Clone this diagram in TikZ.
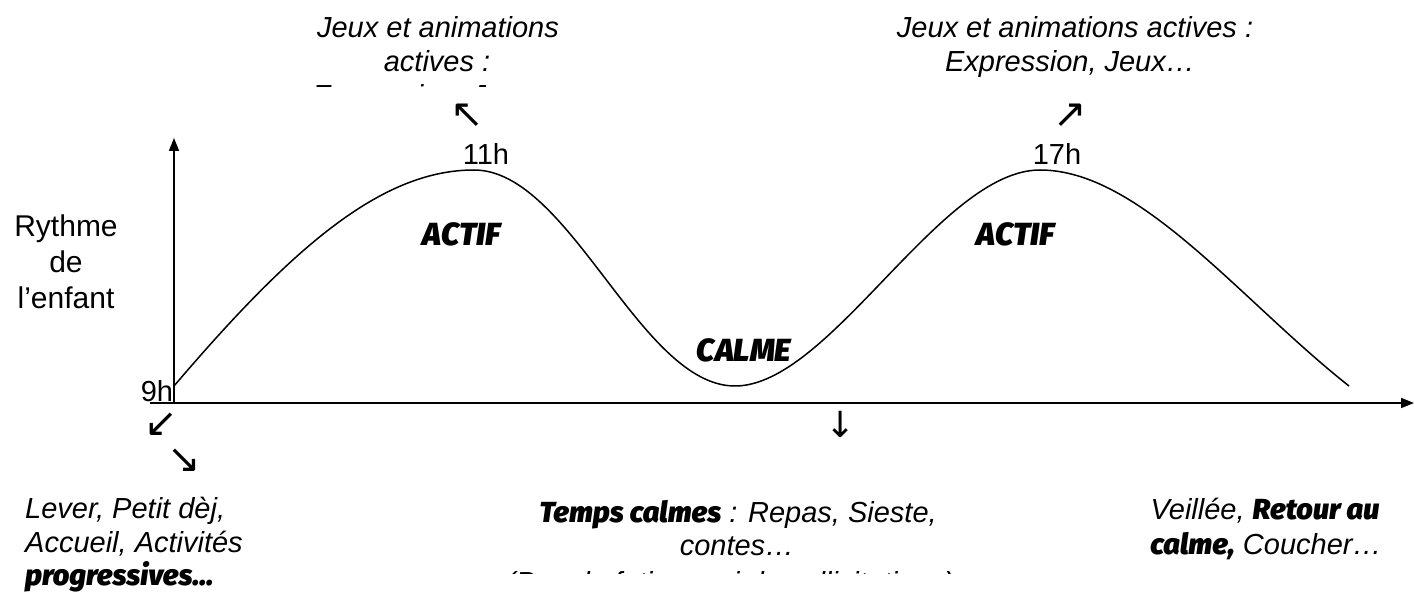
\documentclass[tikz,border=0pt]{standalone}
\usepackage{fontspec}
\setmainfont{Liberation Sans}
\newfontfamily\heavy{Fira Sans}[UprightFont={* Black}, ItalicFont={* Black Italic}]
\newfontfamily\sym{DejaVu Sans}
\usetikzlibrary{arrows.meta}
\tikzset{
  txt/.style={inner sep=0pt, anchor=base, font=\fontsize{29}{34}\selectfont\itshape},
  lbl/.style={inner sep=0pt, anchor=base, font=\fontsize{30}{34}\selectfont},
  big/.style={inner sep=0pt, anchor=base, font=\fontsize{29}{34}\selectfont\heavy\itshape},
  phase/.style={inner sep=0pt, anchor=base, font=\fontsize{32}{34}\selectfont\heavy\itshape},
  arr/.style={inner sep=0pt, anchor=center, font=\fontsize{40}{40}\selectfont\sym},
  axis/.style={line width=1.7pt, -{Triangle[length=13pt,width=10pt]}},
  wave/.style={line width=1.5pt}
}
\begin{document}
\begin{tikzpicture}[x=1pt,y=-1pt]
\useasboundingbox (0,0) rectangle (1414,593);
% axes
\coordinate (O) at (174,403);
\coordinate (xs) at (150,403);
\coordinate (xe) at (1414,403);
\coordinate (ye) at (174,138);
\draw[axis] (xs) -- (xe);
\draw[axis] (O) -- (ye);
% curve
\coordinate (c0) at (174,386);
\coordinate (p1) at (474,170);
\coordinate (t1) at (735,386);
\coordinate (p2) at (1040,170);
\coordinate (c4) at (1349,386);
\draw[wave] (c0) .. controls (290,250) and (380,170) .. (p1)
  .. controls (570,170) and (640,386) .. (t1)
  .. controls (830,386) and (940,170) .. (p2)
  .. controls (1140,170) and (1240,300) .. (c4);
% axis labels
\node[lbl] (r1) at (66,237) {Rythme};
\node[lbl] (r2) at (66,273) {de};
\node[lbl] (r3) at (66,309) {l’enfant};
\node[lbl, font=\fontsize{29}{34}\selectfont] (h9) at (157,402) {9h};
\node[lbl, font=\fontsize{29}{34}\selectfont] (h11) at (486,165) {11h};
\node[lbl, font=\fontsize{29}{34}\selectfont] (h17) at (1057,165) {17h};
% phases
\node[phase] (a1) at (462,246) {ACTIF};
\node[phase] (a2) at (1016,246) {ACTIF};
\node[phase] (cm) at (744,362) {CALME};
% glyph arrows
\node[arr] (g1) at (467,116) {↖};
\node[arr] (g2) at (1070,116) {↗};
\node[arr] (g3) at (161,425) {↙};
\node[arr] (g4) at (184,461) {↘};
\node[arr, font=\fontsize{36}{36}\selectfont\sym] (g5) at (841,424) {↓};
% top left text
\node[txt] (tl1) at (438,38) {Jeux et animations};
\node[txt] (tl2) at (437,72) {actives :};
\begin{scope}
\clip (250,0) rectangle (650,86.5);
\node[txt] (tl3) at (437,106) {Expression, Jeux…};
\end{scope}
% top right text
\node[txt] (tr1) at (1075,38) {Jeux et animations actives :};
\node[txt] (tr2) at (1070,72) {Expression, Jeux…};
% bottom left
\node[txt, anchor=base west] (bl1) at (25,518) {Lever, Petit dèj,};
\node[txt, anchor=base west] (bl2) at (25,552) {Accueil, Activités};
\node[big, anchor=base west] (bl3) at (25,585) {progressives…};
% bottom middle
\node[txt] (bm1) at (738,522) {{\heavy Temps calmes} : Repas, Sieste,};
\node[txt] (bm2) at (737,555) {contes…};
\begin{scope}
\clip (500,560) rectangle (1000,573);
\node[txt] (bm3) at (730,592) {(Pas de fatigue, ni de sollicitations)};
\end{scope}
% bottom right
\node[txt] (br1) at (1265,519) {Veillée, {\heavy Retour au}};
\node[txt] (br2) at (1266,554) {{\heavy calme,} Coucher…};
\end{tikzpicture}
\end{document}
